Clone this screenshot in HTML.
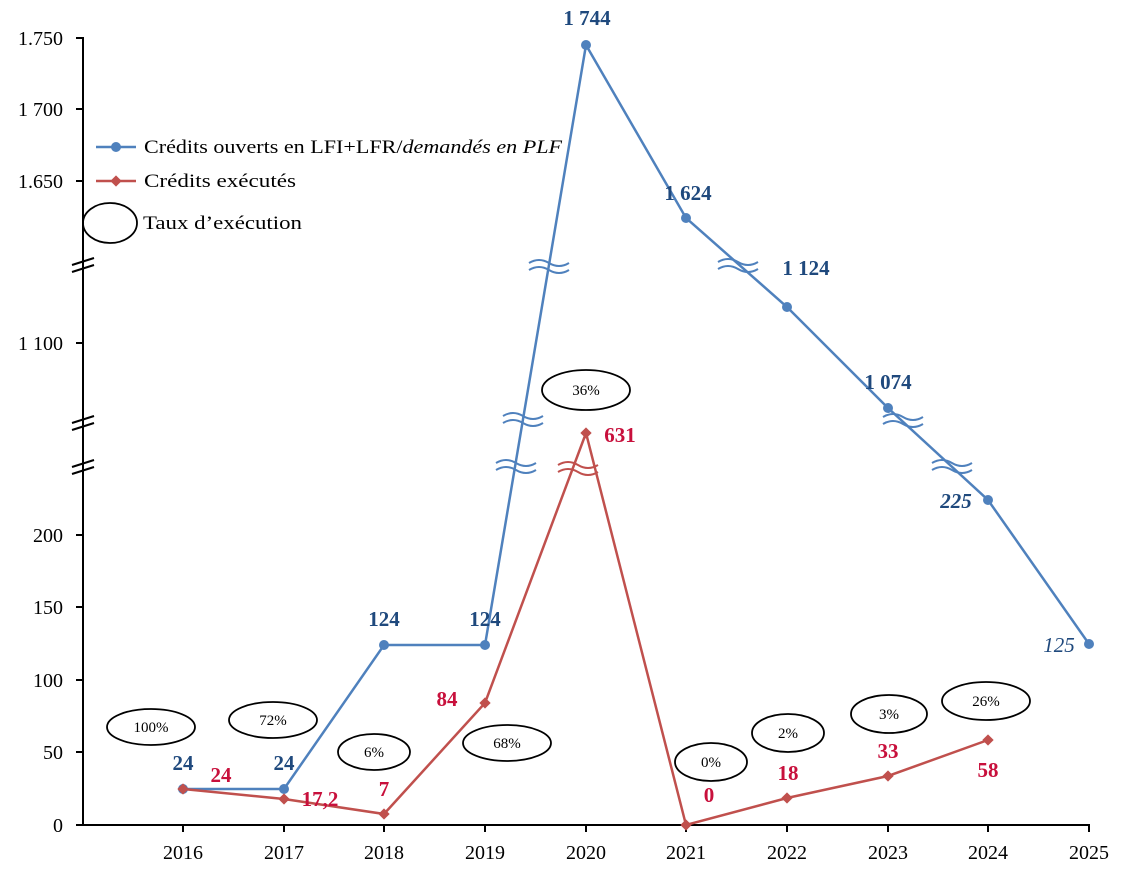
<!DOCTYPE html>
<html><head><meta charset="utf-8"><style>
html,body{margin:0;padding:0;background:#fff}
svg{display:block;font-family:"Liberation Serif",serif}
.b{fill:#1f497d;font-weight:bold;font-size:21px;text-anchor:middle}
.r{fill:#c8103c;font-weight:bold;font-size:21px;text-anchor:middle}
.y{font-size:20px;text-anchor:end;fill:#000}
.x{font-size:20px;text-anchor:middle;fill:#000}
.p{font-size:15px;text-anchor:middle;fill:#000}
</style></head><body>
<svg width="1125" height="877" viewBox="0 0 1125 877">
<defs>
<path id="wb" d="M-20 2 q10 -6 20 0 t20 0 M-20 9 q10 -6 20 0 t20 0" fill="none" stroke="#4f81bd" stroke-width="2"/>
<path id="wr" d="M-20 2 q10 -6 20 0 t20 0 M-20 9 q10 -6 20 0 t20 0" fill="none" stroke="#c0504d" stroke-width="2"/>
<path id="sl" d="M-11 4 L11 -3 M-11 11 L11 4" stroke="#000" stroke-width="2"/>
</defs>
<g stroke="#000" stroke-width="2" fill="none">
<line x1="83" y1="37" x2="83" y2="826"/>
<line x1="82" y1="825" x2="1090" y2="825"/>
<line x1="76" y1="38" x2="83" y2="38"/><line x1="76" y1="109" x2="83" y2="109"/><line x1="76" y1="181" x2="83" y2="181"/>
<line x1="76" y1="343" x2="83" y2="343"/><line x1="76" y1="535" x2="83" y2="535"/><line x1="76" y1="607" x2="83" y2="607"/>
<line x1="76" y1="680" x2="83" y2="680"/><line x1="76" y1="752" x2="83" y2="752"/><line x1="76" y1="825" x2="83" y2="825"/>
<line x1="183" y1="825" x2="183" y2="832"/><line x1="284" y1="825" x2="284" y2="832"/><line x1="384" y1="825" x2="384" y2="832"/>
<line x1="485" y1="825" x2="485" y2="832"/><line x1="586" y1="825" x2="586" y2="832"/><line x1="686" y1="825" x2="686" y2="832"/>
<line x1="787" y1="825" x2="787" y2="832"/><line x1="888" y1="825" x2="888" y2="832"/><line x1="988" y1="825" x2="988" y2="832"/>
<line x1="1089" y1="825" x2="1089" y2="832"/>
</g>
<use href="#sl" x="83" y="261"/><use href="#sl" x="83" y="419"/><use href="#sl" x="83" y="463"/>
<g class="y">
<text x="63" y="45">1.750</text><text x="63" y="116">1 700</text><text x="63" y="188">1.650</text>
<text x="63" y="350">1 100</text><text x="63" y="542">200</text><text x="63" y="614">150</text>
<text x="63" y="687">100</text><text x="63" y="759">50</text><text x="63" y="832">0</text>
</g>
<g class="x">
<text x="183" y="859">2016</text><text x="284" y="859">2017</text><text x="384" y="859">2018</text><text x="485" y="859">2019</text>
<text x="586" y="859">2020</text><text x="686" y="859">2021</text><text x="787" y="859">2022</text><text x="888" y="859">2023</text>
<text x="988" y="859">2024</text><text x="1089" y="859">2025</text>
</g>
<polyline points="183,789 284,789 384,645 485,645 586,45 686,218 787,307 888,408 988,500 1089,644" fill="none" stroke="#4f81bd" stroke-width="2.5"/>
<g fill="#4f81bd">
<circle cx="183" cy="789" r="5"/><circle cx="284" cy="789" r="5"/><circle cx="384" cy="645" r="5"/><circle cx="485" cy="645" r="5"/>
<circle cx="586" cy="45" r="5"/><circle cx="686" cy="218" r="5"/><circle cx="787" cy="307" r="5"/><circle cx="888" cy="408" r="5"/>
<circle cx="988" cy="500" r="5"/><circle cx="1089" cy="644" r="5"/>
</g>
<polyline points="183,789 284,799 384,814 485,703 586,433 686,825 787,798 888,776 988,740" fill="none" stroke="#c0504d" stroke-width="2.5"/>
<g fill="#c0504d">
<rect x="179" y="785" width="8" height="8" transform="rotate(45 183 789)"/><rect x="280" y="795" width="8" height="8" transform="rotate(45 284 799)"/>
<rect x="380" y="810" width="8" height="8" transform="rotate(45 384 814)"/><rect x="481" y="699" width="8" height="8" transform="rotate(45 485 703)"/>
<rect x="582" y="429" width="8" height="8" transform="rotate(45 586 433)"/><rect x="682" y="821" width="8" height="8" transform="rotate(45 686 825)"/>
<rect x="783" y="794" width="8" height="8" transform="rotate(45 787 798)"/><rect x="884" y="772" width="8" height="8" transform="rotate(45 888 776)"/>
<rect x="984" y="736" width="8" height="8" transform="rotate(45 988 740)"/>
</g>
<use href="#wb" x="549" y="261"/><use href="#wb" x="523" y="414"/><use href="#wb" x="516" y="461"/>
<use href="#wr" x="578" y="463"/>
<use href="#wb" x="738" y="260"/><use href="#wb" x="903" y="415"/><use href="#wb" x="952" y="461"/>
<g class="b">
<text x="183" y="770">24</text><text x="284" y="770">24</text><text x="384" y="626">124</text><text x="485" y="626">124</text>
<text x="587" y="25">1 744</text><text x="688" y="200">1 624</text><text x="806" y="275">1 124</text><text x="888" y="389">1 074</text>
<text x="956" y="508" font-style="italic">225</text>
</g>
<text x="1059" y="652" style="fill:#1f497d;font-style:italic;font-size:21px;text-anchor:middle">125</text>
<g class="r">
<text x="221" y="782">24</text><text x="320" y="806">17,2</text><text x="384" y="796">7</text><text x="447" y="706">84</text>
<text x="620" y="442">631</text><text x="709" y="802">0</text><text x="788" y="780">18</text><text x="888" y="758">33</text><text x="988" y="777">58</text>
</g>
<g fill="none" stroke="#000" stroke-width="1.8">
<ellipse cx="151" cy="727" rx="44" ry="18"/><ellipse cx="273" cy="720" rx="44" ry="18"/><ellipse cx="374" cy="752" rx="36" ry="18"/>
<ellipse cx="507" cy="743" rx="44" ry="18"/><ellipse cx="586" cy="390" rx="44" ry="20"/><ellipse cx="711" cy="762" rx="36" ry="19"/>
<ellipse cx="788" cy="733" rx="36" ry="19"/><ellipse cx="889" cy="714" rx="38" ry="19"/><ellipse cx="986" cy="701" rx="44" ry="19"/>
<ellipse cx="110" cy="223" rx="27" ry="20"/>
</g>
<g class="p">
<text x="151" y="732">100%</text><text x="273" y="725">72%</text><text x="374" y="757">6%</text><text x="507" y="748">68%</text>
<text x="586" y="395">36%</text><text x="711" y="767">0%</text><text x="788" y="738">2%</text><text x="889" y="719">3%</text><text x="986" y="706">26%</text>
</g>
<line x1="96" y1="147" x2="136" y2="147" stroke="#4f81bd" stroke-width="2.5"/><circle cx="116" cy="147" r="5" fill="#4f81bd"/>
<line x1="96" y1="181" x2="136" y2="181" stroke="#c0504d" stroke-width="2.5"/><rect x="112" y="177" width="8" height="8" fill="#c0504d" transform="rotate(45 116 181)"/>
<text x="144" y="153" font-size="19" textLength="418" lengthAdjust="spacingAndGlyphs">Crédits ouverts en LFI+LFR/<tspan font-style="italic">demandés en PLF</tspan></text>
<text x="144" y="187" font-size="19" textLength="152" lengthAdjust="spacingAndGlyphs">Crédits exécutés</text>
<text x="143" y="229" font-size="19" textLength="159" lengthAdjust="spacingAndGlyphs">Taux d’exécution</text>
</svg>
</body></html>
